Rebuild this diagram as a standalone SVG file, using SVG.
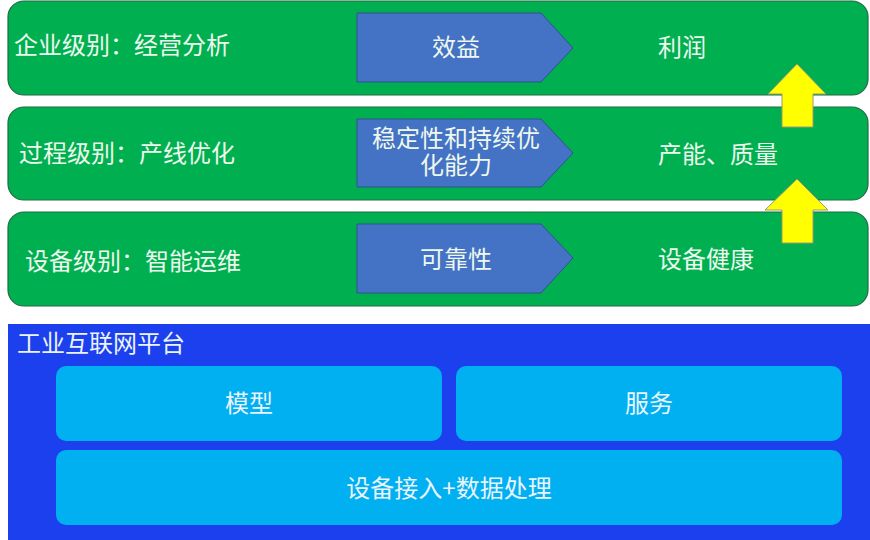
<svg xmlns="http://www.w3.org/2000/svg" width="870" height="540" viewBox="0 0 870 540">
<defs>
<style>
.band{fill:#00B050;stroke:#1F6B43;stroke-width:1.2}
.chev{fill:#4472C4;stroke:#2F528F;stroke-width:1}
.up{fill:#FFFF00;stroke:#9A9A70;stroke-width:1}
.t{font-family:"Noto Sans CJK SC","Microsoft YaHei",sans-serif;font-size:24px;fill:#EEF8EE}
.c{text-anchor:middle}
.plat{fill:#1C40EE}
.box{fill:#00B0F0}
.tb{font-family:"Noto Sans CJK SC","Microsoft YaHei",sans-serif;font-size:24px;fill:#EAF4FF}
</style>
</defs>
<rect width="870" height="540" fill="#FFFFFF"/>
<g id="level-enterprise">
<rect class="band" x="8" y="1" width="860" height="94" rx="16"/>
<text class="t" x="14" y="54">企业级别：经营分析</text>
</g>
<g id="level-process">
<rect class="band" x="8" y="107" width="860" height="93" rx="16"/>
<text class="t" x="19" y="162">过程级别：产线优化</text>
</g>
<g id="level-device">
<rect class="band" x="8" y="212" width="860" height="94" rx="16"/>
<text class="t" x="25" y="270">设备级别：智能运维</text>
</g>
<g id="chev-benefit">
<polygon class="chev" points="357,13 541,13 573,48 541,82 357,82"/>
<text class="t c" x="456" y="56">效益</text>
</g>
<g id="chev-stability">
<polygon class="chev" points="357,119 541,119 573,153 541,187 357,187"/>
<text class="t c" x="456" y="147">稳定性和持续优<tspan x="456" dy="27">化能力</tspan></text>
</g>
<g id="chev-reliability">
<polygon class="chev" points="357,224 541,224 573,258 541,293 357,293"/>
<text class="t c" x="456" y="268">可靠性</text>
</g>
<g id="out-profit"><text class="t" x="658" y="56">利润</text></g>
<g id="out-capacity"><text class="t" x="658" y="163">产能、质量</text></g>
<g id="out-health"><text class="t" x="658" y="268">设备健康</text></g>
<g id="connectors">
<polygon class="up" points="797,64 826,94 813,94 813,127 782,127 782,94 768,94"/>
<polygon class="up" points="797,179 828,210 813,210 813,243 782,243 782,210 765,210"/>
</g>
<g id="platform">
<rect class="plat" x="8" y="324" width="862" height="216"/>
<text class="tb" x="17" y="352">工业互联网平台</text>
</g>
<g id="box-model">
<rect class="box" x="56" y="366" width="386" height="75" rx="10"/>
<text class="tb c" x="249" y="412">模型</text>
</g>
<g id="box-service">
<rect class="box" x="456" y="366" width="386" height="75" rx="10"/>
<text class="tb c" x="649" y="412">服务</text>
</g>
<g id="box-access">
<rect class="box" x="56" y="450" width="786" height="75" rx="10"/>
<text class="tb c" x="449" y="497">设备接入+数据处理</text>
</g>
</svg>
